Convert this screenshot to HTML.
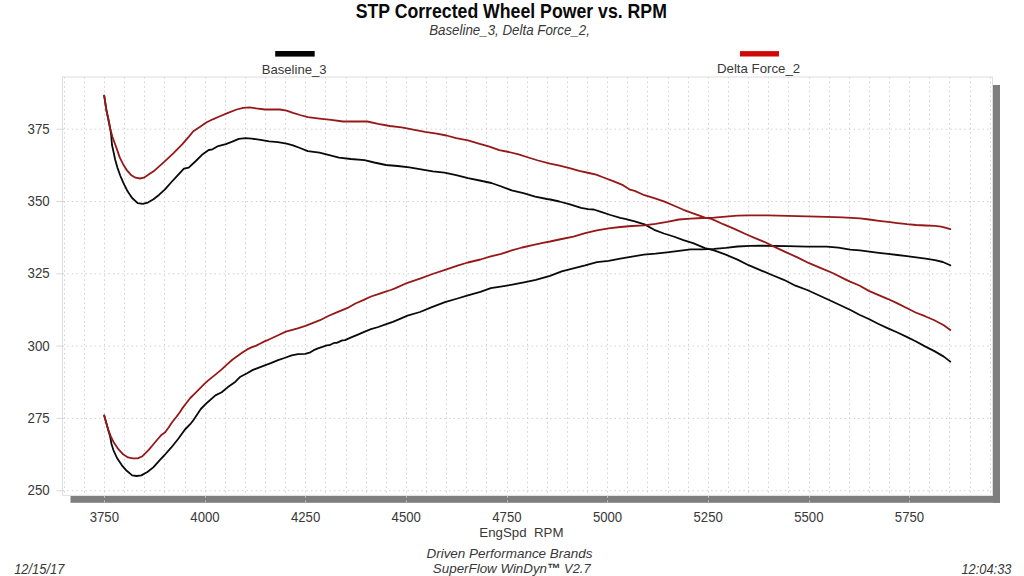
<!DOCTYPE html>
<html><head><meta charset="utf-8"><style>
html,body{margin:0;padding:0;background:#fff;overflow:hidden;}
svg{display:block;}
text{font-family:"Liberation Sans",sans-serif;}
</style></head><body>
<svg width="1024" height="576" viewBox="0 0 1024 576">
<rect width="1024" height="576" fill="#fff"/>
<rect x="275.2" y="51" width="39.5" height="5.6" fill="#050505"/>
<rect x="740" y="51.1" width="39" height="5.4" fill="#d00808"/>
<rect x="993" y="85" width="7" height="417.8" fill="#7e7e7e"/>
<rect x="70.5" y="496" width="929.5" height="6.8" fill="#7e7e7e"/>
<g stroke="#d0d0d0" stroke-width="1" stroke-dasharray="1.5 3.1" fill="none">
<line x1="64.5" y1="77.0" x2="64.5" y2="495.3"/>
<line x1="84.5" y1="77.0" x2="84.5" y2="495.3"/>
<line x1="104.5" y1="77.0" x2="104.5" y2="495.3"/>
<line x1="124.5" y1="77.0" x2="124.5" y2="495.3"/>
<line x1="144.5" y1="77.0" x2="144.5" y2="495.3"/>
<line x1="164.5" y1="77.0" x2="164.5" y2="495.3"/>
<line x1="185.5" y1="77.0" x2="185.5" y2="495.3"/>
<line x1="205.5" y1="77.0" x2="205.5" y2="495.3"/>
<line x1="225.5" y1="77.0" x2="225.5" y2="495.3"/>
<line x1="245.5" y1="77.0" x2="245.5" y2="495.3"/>
<line x1="265.5" y1="77.0" x2="265.5" y2="495.3"/>
<line x1="285.5" y1="77.0" x2="285.5" y2="495.3"/>
<line x1="305.5" y1="77.0" x2="305.5" y2="495.3"/>
<line x1="325.5" y1="77.0" x2="325.5" y2="495.3"/>
<line x1="346.5" y1="77.0" x2="346.5" y2="495.3"/>
<line x1="366.5" y1="77.0" x2="366.5" y2="495.3"/>
<line x1="386.5" y1="77.0" x2="386.5" y2="495.3"/>
<line x1="406.5" y1="77.0" x2="406.5" y2="495.3"/>
<line x1="426.5" y1="77.0" x2="426.5" y2="495.3"/>
<line x1="446.5" y1="77.0" x2="446.5" y2="495.3"/>
<line x1="466.5" y1="77.0" x2="466.5" y2="495.3"/>
<line x1="486.5" y1="77.0" x2="486.5" y2="495.3"/>
<line x1="507.5" y1="77.0" x2="507.5" y2="495.3"/>
<line x1="527.5" y1="77.0" x2="527.5" y2="495.3"/>
<line x1="547.5" y1="77.0" x2="547.5" y2="495.3"/>
<line x1="567.5" y1="77.0" x2="567.5" y2="495.3"/>
<line x1="587.5" y1="77.0" x2="587.5" y2="495.3"/>
<line x1="607.5" y1="77.0" x2="607.5" y2="495.3"/>
<line x1="627.5" y1="77.0" x2="627.5" y2="495.3"/>
<line x1="647.5" y1="77.0" x2="647.5" y2="495.3"/>
<line x1="668.5" y1="77.0" x2="668.5" y2="495.3"/>
<line x1="688.5" y1="77.0" x2="688.5" y2="495.3"/>
<line x1="708.5" y1="77.0" x2="708.5" y2="495.3"/>
<line x1="728.5" y1="77.0" x2="728.5" y2="495.3"/>
<line x1="748.5" y1="77.0" x2="748.5" y2="495.3"/>
<line x1="768.5" y1="77.0" x2="768.5" y2="495.3"/>
<line x1="788.5" y1="77.0" x2="788.5" y2="495.3"/>
<line x1="809.5" y1="77.0" x2="809.5" y2="495.3"/>
<line x1="829.5" y1="77.0" x2="829.5" y2="495.3"/>
<line x1="849.5" y1="77.0" x2="849.5" y2="495.3"/>
<line x1="869.5" y1="77.0" x2="869.5" y2="495.3"/>
<line x1="889.5" y1="77.0" x2="889.5" y2="495.3"/>
<line x1="909.5" y1="77.0" x2="909.5" y2="495.3"/>
<line x1="929.5" y1="77.0" x2="929.5" y2="495.3"/>
<line x1="949.5" y1="77.0" x2="949.5" y2="495.3"/>
<line x1="970.5" y1="77.0" x2="970.5" y2="495.3"/>
<line x1="990.5" y1="77.0" x2="990.5" y2="495.3"/>
<line x1="62.5" y1="490.7" x2="992.5" y2="490.7"/>
<line x1="62.5" y1="418.4" x2="992.5" y2="418.4"/>
<line x1="62.5" y1="346.1" x2="992.5" y2="346.1"/>
<line x1="62.5" y1="273.8" x2="992.5" y2="273.8"/>
<line x1="62.5" y1="201.5" x2="992.5" y2="201.5"/>
<line x1="62.5" y1="129.2" x2="992.5" y2="129.2"/>
</g>
<rect x="62.5" y="77.0" width="930.0" height="418.3" fill="none" stroke="#dedede" stroke-width="1"/>
<g stroke="#d8d8d8" stroke-width="1">
<line x1="56.5" y1="490.7" x2="62.5" y2="490.7"/>
<line x1="56.5" y1="418.4" x2="62.5" y2="418.4"/>
<line x1="56.5" y1="346.1" x2="62.5" y2="346.1"/>
<line x1="56.5" y1="273.8" x2="62.5" y2="273.8"/>
<line x1="56.5" y1="201.5" x2="62.5" y2="201.5"/>
<line x1="56.5" y1="129.2" x2="62.5" y2="129.2"/>
</g>
<g stroke="#c4c4c4" stroke-width="1" stroke-dasharray="2 2.6">
<line x1="104.5" y1="495.8" x2="104.5" y2="505"/>
<line x1="205.5" y1="495.8" x2="205.5" y2="505"/>
<line x1="305.5" y1="495.8" x2="305.5" y2="505"/>
<line x1="406.5" y1="495.8" x2="406.5" y2="505"/>
<line x1="507.5" y1="495.8" x2="507.5" y2="505"/>
<line x1="607.5" y1="495.8" x2="607.5" y2="505"/>
<line x1="708.5" y1="495.8" x2="708.5" y2="505"/>
<line x1="809.5" y1="495.8" x2="809.5" y2="505"/>
<line x1="909.5" y1="495.8" x2="909.5" y2="505"/>
</g>
<g fill="none" stroke-width="1.8" stroke-linejoin="round" stroke-linecap="round">
<polyline points="104.2,415.5 106.1,422.2 108.5,430.7 110.3,437.3 111.5,444.0 113.4,450.1 117.0,458.0 121.9,465.3 126.7,470.8 132.2,475.4 136.5,476.0 141.3,475.4 147.4,472.0 153.5,467.1 160.0,459.8 164.2,455.5 171.1,447.7 178.1,439.0 185.0,429.5 190.2,424.2 193.5,420.0 200.8,409.0 207.1,402.7 215.4,395.4 221.7,392.3 227.9,387.1 235.2,381.9 240.4,376.7 246.7,373.5 252.9,369.9 263.5,365.8 270.8,363.2 278.1,360.1 284.4,358.0 291.7,355.4 297.9,354.2 305.2,353.9 310.4,352.3 313.7,350.2 318.0,348.4 322.4,346.9 326.7,345.3 329.3,345.2 334.5,342.8 336.7,342.8 342.3,340.4 345.0,340.1 351.2,337.4 358.5,334.3 364.8,331.7 371.0,329.1 378.3,327.0 385.6,324.4 392.9,321.8 400.0,318.8 407.5,315.6 420.0,312.0 432.5,306.8 445.0,302.1 457.5,298.5 467.9,295.3 480.4,291.8 490.8,288.1 500.6,286.6 512.3,284.7 524.0,282.3 535.8,279.8 550.0,275.8 561.7,271.3 573.4,268.4 585.2,265.4 596.9,262.1 608.6,260.9 620.3,258.6 632.0,256.6 643.8,254.7 655.5,253.7 667.2,252.3 678.9,250.8 690.6,249.4 702.3,249.3 714.0,248.8 725.8,247.9 737.5,246.5 750.0,245.9 760.3,245.7 787.7,246.2 807.2,246.6 826.7,246.6 838.4,247.6 850.2,249.6 860.0,250.3 869.4,251.6 878.8,252.8 888.1,253.9 897.5,255.0 906.9,256.2 916.2,257.3 925.6,258.6 935.0,260.2 942.8,262.0 950.3,265.3" stroke="#0a0a0a"/>
<polyline points="104.2,95.7 106.5,110.8 108.5,120.0 110.4,129.6 111.2,135.5 112.0,145.0 113.5,151.8 115.2,159.7 117.4,167.6 120.2,175.5 123.6,183.4 127.6,191.3 132.1,198.0 137.7,203.1 142.8,203.9 147.9,202.6 153.5,199.2 159.2,194.7 165.0,189.4 171.5,182.0 177.2,175.8 183.9,168.7 188.7,167.7 195.3,161.5 202.0,154.8 208.7,150.0 212.5,149.3 217.3,146.4 225.8,144.2 232.3,141.6 238.8,138.8 245.3,138.2 251.8,138.6 260.5,139.9 269.2,141.4 277.9,142.1 286.6,143.6 293.0,145.3 300.0,148.0 307.8,151.2 319.5,152.7 329.3,155.1 339.0,157.6 350.8,159.0 364.5,160.2 374.2,162.5 385.9,165.0 397.7,166.0 409.4,167.4 421.1,169.3 432.8,171.3 444.5,172.7 456.2,175.2 468.0,178.1 479.7,180.5 491.4,183.0 500.0,186.0 511.7,190.4 523.4,193.1 535.2,196.6 546.9,199.0 550.3,199.5 559.3,201.5 570.0,204.3 581.1,207.9 588.0,209.2 593.8,209.5 601.0,211.8 610.5,215.0 620.2,217.8 625.0,218.9 634.7,221.3 644.5,224.4 654.2,229.8 663.9,233.5 673.6,236.5 683.4,240.2 693.1,243.2 705.0,248.1 714.0,250.4 725.8,254.7 737.5,259.6 748.6,265.2 760.3,270.1 772.0,275.0 783.8,279.8 795.5,285.7 807.2,290.0 828.0,299.5 850.0,309.7 859.4,314.7 868.8,319.0 878.1,323.8 887.5,328.1 896.9,332.3 906.2,336.6 915.6,341.2 925.0,346.4 934.4,351.1 943.8,356.6 950.3,361.6" stroke="#0a0a0a"/>
<polyline points="104.2,415.5 106.1,422.2 108.5,430.7 110.9,436.7 114.0,442.8 118.2,448.9 123.1,454.3 128.0,457.4 132.8,458.4 137.7,458.4 142.5,456.2 148.7,449.9 153.0,444.7 157.4,439.5 161.7,434.7 165.2,432.2 168.6,427.4 172.1,422.2 176.5,416.8 180.0,412.0 182.5,408.1 186.4,403.0 190.3,398.0 195.0,393.3 199.7,388.6 204.4,383.9 208.3,380.4 215.4,374.6 221.7,369.4 227.9,363.6 232.6,359.5 237.5,356.0 242.4,352.6 247.2,349.4 251.4,347.4 256.2,345.6 260.4,343.5 265.0,341.1 268.4,339.8 278.1,335.2 285.9,331.6 297.7,328.3 305.5,325.8 320.0,320.2 328.3,316.0 336.7,312.4 347.1,308.2 355.4,303.5 363.8,299.9 371.0,296.5 378.3,294.2 385.6,291.6 390.8,290.0 395.0,288.4 407.5,282.8 420.0,278.7 432.5,274.0 445.0,269.8 457.5,265.6 467.9,262.5 480.4,259.5 490.8,256.4 501.2,253.8 511.7,250.4 522.1,247.5 532.5,245.2 542.9,242.8 550.0,241.5 561.7,239.0 573.4,236.7 585.2,233.2 596.9,230.3 608.6,228.3 620.3,227.0 632.0,226.0 643.8,225.4 655.5,223.8 667.2,221.9 678.9,219.5 690.6,218.6 702.3,218.0 714.0,217.6 725.8,216.6 737.5,215.6 748.6,215.4 768.1,215.4 787.7,215.8 807.2,216.4 826.7,216.8 842.3,217.3 860.0,218.4 869.4,219.5 878.8,220.8 888.1,221.9 897.5,223.1 906.9,224.2 916.2,225.0 925.6,225.5 935.0,225.8 941.2,226.6 946.0,227.8 950.3,229.2" stroke="#961818"/>
<polyline points="104.2,95.7 106.5,110.8 108.5,120.0 110.4,129.6 112.5,137.0 115.4,145.0 117.4,150.6 119.7,157.4 123.1,164.2 127.0,170.4 131.0,174.9 135.5,177.7 140.0,178.5 143.9,177.7 149.0,174.3 154.7,170.4 160.3,165.3 165.0,161.1 173.8,152.9 182.4,144.2 188.9,136.6 193.3,131.2 199.8,126.9 206.3,122.5 212.8,119.3 219.3,116.5 228.0,112.8 236.7,109.5 243.2,107.8 249.7,107.4 256.2,108.4 264.9,109.5 273.5,109.5 280.0,109.5 286.6,110.6 293.0,112.8 300.0,115.0 307.8,117.2 319.5,118.6 331.2,119.9 343.0,121.5 354.7,121.5 367.4,121.5 378.1,123.8 389.8,126.0 401.6,127.3 413.3,129.7 425.0,131.8 436.7,133.6 446.5,135.5 456.2,138.1 468.0,140.4 479.7,143.8 489.5,146.6 499.2,150.2 508.9,152.0 518.6,154.4 528.4,157.5 538.1,160.5 550.0,163.6 559.7,165.7 569.5,168.1 579.2,170.8 588.9,173.0 596.2,174.7 603.5,177.5 613.2,181.1 623.0,185.2 630.0,189.7 634.7,190.9 644.5,195.2 654.2,198.2 663.9,201.3 673.6,205.5 683.4,209.8 693.1,213.4 705.0,217.7 711.5,218.9 723.2,224.2 734.9,229.1 746.6,234.5 754.5,237.9 764.2,241.8 774.0,246.6 785.7,252.1 797.4,257.4 809.1,263.2 820.9,268.1 832.6,273.0 844.3,278.9 850.0,281.6 859.4,285.5 868.8,290.9 878.1,294.8 887.5,298.8 896.9,303.1 906.2,307.8 915.6,312.5 925.0,316.2 934.4,320.3 943.8,325.3 950.3,330.0" stroke="#961818"/>
</g>
<text x="355.66" y="18.00" font-size="19.5" textLength="311.23" lengthAdjust="spacingAndGlyphs" font-weight="bold" fill="#0a0a0a">STP Corrected Wheel Power vs. RPM</text>
<text x="429.17" y="34.60" font-size="14" textLength="160.73" lengthAdjust="spacingAndGlyphs" font-style="italic" fill="#383838">Baseline_3, Delta Force_2,</text>
<text x="261.72" y="73.50" font-size="13.5" textLength="64.92" lengthAdjust="spacingAndGlyphs" fill="#383838">Baseline_3</text>
<text x="717.01" y="73.40" font-size="13.5" textLength="83.13" lengthAdjust="spacingAndGlyphs" fill="#383838">Delta Force_2</text>
<text x="479.30" y="537.30" font-size="13.5" textLength="84.15" lengthAdjust="spacingAndGlyphs" fill="#383838">EngSpd  RPM</text>
<text x="426.46" y="557.90" font-size="13.5" textLength="166.02" lengthAdjust="spacingAndGlyphs" font-style="italic" fill="#383838">Driven Performance Brands</text>
<text x="432.87" y="572.70" font-size="13.5" textLength="114.20" lengthAdjust="spacingAndGlyphs" font-style="italic" fill="#383838">SuperFlow WinDyn</text>
<text x="546.90" y="572.70" font-size="13.5" textLength="13.38" lengthAdjust="spacingAndGlyphs" font-weight="bold" fill="#383838">™</text>
<text x="564.11" y="572.70" font-size="13.5" textLength="26.46" lengthAdjust="spacingAndGlyphs" font-style="italic" fill="#383838">V2.7</text>
<text x="14.18" y="573.60" font-size="14" textLength="50.20" lengthAdjust="spacingAndGlyphs" font-style="italic" fill="#383838">12/15/17</text>
<text x="961.48" y="573.80" font-size="14" textLength="49.95" lengthAdjust="spacingAndGlyphs" font-style="italic" fill="#383838">12:04:33</text>
<text x="27.54" y="495.20" font-size="14.2" textLength="22.14" lengthAdjust="spacingAndGlyphs" fill="#383838">250</text>
<text x="27.54" y="422.90" font-size="14.2" textLength="22.14" lengthAdjust="spacingAndGlyphs" fill="#383838">275</text>
<text x="27.54" y="350.60" font-size="14.2" textLength="22.14" lengthAdjust="spacingAndGlyphs" fill="#383838">300</text>
<text x="27.54" y="278.30" font-size="14.2" textLength="22.14" lengthAdjust="spacingAndGlyphs" fill="#383838">325</text>
<text x="27.54" y="206.00" font-size="14.2" textLength="22.14" lengthAdjust="spacingAndGlyphs" fill="#383838">350</text>
<text x="27.54" y="133.70" font-size="14.2" textLength="22.14" lengthAdjust="spacingAndGlyphs" fill="#383838">375</text>
<text x="89.68" y="522.20" font-size="14.5" textLength="29.28" lengthAdjust="spacingAndGlyphs" fill="#383838">3750</text>
<text x="190.33" y="522.20" font-size="14.5" textLength="29.28" lengthAdjust="spacingAndGlyphs" fill="#383838">4000</text>
<text x="290.97" y="522.20" font-size="14.5" textLength="29.28" lengthAdjust="spacingAndGlyphs" fill="#383838">4250</text>
<text x="391.62" y="522.20" font-size="14.5" textLength="29.28" lengthAdjust="spacingAndGlyphs" fill="#383838">4500</text>
<text x="492.26" y="522.20" font-size="14.5" textLength="29.28" lengthAdjust="spacingAndGlyphs" fill="#383838">4750</text>
<text x="592.91" y="522.20" font-size="14.5" textLength="29.28" lengthAdjust="spacingAndGlyphs" fill="#383838">5000</text>
<text x="693.55" y="522.20" font-size="14.5" textLength="29.28" lengthAdjust="spacingAndGlyphs" fill="#383838">5250</text>
<text x="794.20" y="522.20" font-size="14.5" textLength="29.28" lengthAdjust="spacingAndGlyphs" fill="#383838">5500</text>
<text x="894.84" y="522.20" font-size="14.5" textLength="29.28" lengthAdjust="spacingAndGlyphs" fill="#383838">5750</text>
</svg>
</body></html>
